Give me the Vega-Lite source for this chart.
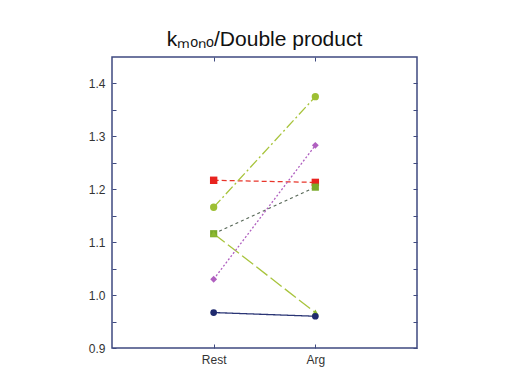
{
  "$schema": "https://vega.github.io/schema/vega-lite/v6.json",
  "autosize": "none",
  "width": 305,
  "height": 291,
  "padding": {"left": 112, "top": 57, "right": 89, "bottom": 32},
  "background": "#ffffff",
  "title": {"text": "kₘₒₙₒ/Double product", "fontSize": 21, "font": "Liberation Sans", "fontWeight": "normal", "color": "#111111", "offset": 7},
  "config": {
    "view": {"stroke": "#3f4a80", "strokeWidth": 1.5},
    "axis": {"labelFont": "Liberation Sans", "labelFontSize": 12, "labelColor": "#333333", "tickColor": "#3f4a80", "domain": false, "grid": false, "title": null}
  },
  "data": {"values": [
    {"series": "A", "cond": "Rest", "value": 1.217},
    {"series": "A", "cond": "Arg", "value": 1.213},
    {"series": "B", "cond": "Rest", "value": 1.166},
    {"series": "B", "cond": "Arg", "value": 1.375},
    {"series": "C", "cond": "Rest", "value": 1.116},
    {"series": "C", "cond": "Arg", "value": 1.204},
    {"series": "D", "cond": "Rest", "value": 1.116},
    {"series": "D", "cond": "Arg", "value": 0.967},
    {"series": "E", "cond": "Rest", "value": 1.030},
    {"series": "E", "cond": "Arg", "value": 1.283},
    {"series": "F", "cond": "Rest", "value": 0.967},
    {"series": "F", "cond": "Arg", "value": 0.960}
  ]},
  "layer": [
    {
      "mark": {"type": "line", "strokeWidth": 1.3},
      "encoding": {
        "x": {"field": "cond", "type": "nominal", "scale": {"type": "point", "padding": 1, "domain": ["Rest", "Arg"]}, "axis": {"orient": "bottom", "labelAngle": 0, "tickSize": -4, "labelPadding": 10}},
        "y": {"field": "value", "type": "quantitative", "scale": {"domain": [0.9, 1.45], "zero": false, "nice": false}, "axis": {"orient": "left", "values": [0.9, 0.95, 1.0, 1.05, 1.1, 1.15, 1.2, 1.25, 1.3, 1.35, 1.4], "labelExpr": "abs(round(datum.value*20)) % 2 == 0 ? format(datum.value, '.1f') : ''", "tickSize": -4, "labelPadding": 11}},
        "color": {"field": "series", "type": "nominal", "scale": {"domain": ["A", "B", "C", "D", "E", "F"], "range": ["#e8352a", "#a8c43c", "#5a6a5a", "#a8c43c", "#b060c0", "#2a3575"]}, "legend": null},
        "strokeDash": {"field": "series", "type": "nominal", "scale": {"domain": ["A", "B", "C", "D", "E", "F"], "range": [[5, 3], [10, 3, 2, 3], [3, 3], [14, 4], [2, 2], [1, 0]]}, "legend": null}
      }
    },
    {
      "mark": {"type": "point", "filled": true, "opacity": 1},
      "encoding": {
        "x": {"field": "cond", "type": "nominal", "axis": {"orient": "top", "labels": false, "tickSize": -4}},
        "y": {"field": "value", "type": "quantitative", "axis": {"orient": "right", "labels": false, "values": [0.9, 0.95, 1.0, 1.05, 1.1, 1.15, 1.2, 1.25, 1.3, 1.35, 1.4], "tickSize": -4}},
        "color": {"field": "series", "type": "nominal", "scale": {"domain": ["A", "B", "C", "D", "E", "F"], "range": ["#e8231f", "#9dbf33", "#7aaa2a", "#8cb830", "#b060c0", "#1f2a6e"]}, "legend": null},
        "shape": {"field": "series", "type": "nominal", "scale": {"domain": ["A", "B", "C", "D", "E", "F"], "range": ["square", "circle", "square", "triangle-up", "diamond", "circle"]}, "legend": null},
        "size": {"field": "series", "type": "nominal", "scale": {"domain": ["A", "B", "C", "D", "E", "F"], "range": [55, 45, 55, 40, 30, 45]}, "legend": null}
      }
    }
  ],
  "resolve": {"axis": {"x": "independent", "y": "independent"}, "scale": {"color": "independent"}}
}
